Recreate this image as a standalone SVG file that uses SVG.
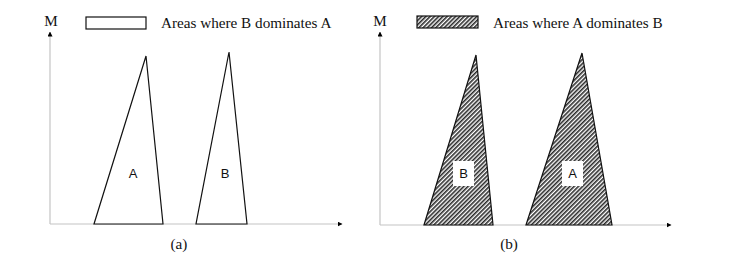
<svg xmlns="http://www.w3.org/2000/svg" width="740" height="270" viewBox="0 0 740 270">
<style>
.axis{stroke:#c4c4c4;stroke-width:1.2;fill:none}
.tri{stroke:#111;stroke-width:1.2;stroke-linejoin:miter}
.open{fill:#fff}
.hatch{fill:url(#hatch)}
.serif{font-family:"Liberation Serif","Times New Roman",serif;font-size:15.2px;fill:#111}
.lbl{font-family:"Liberation Sans",Arial,sans-serif;font-size:13px;fill:#111;text-anchor:middle}
</style>
<defs>
<pattern id="hatch" patternUnits="userSpaceOnUse" width="3" height="3" patternTransform="rotate(-45)">
<rect width="3" height="3" fill="#fff"/>
<rect width="3" height="1.6" fill="#2a2a2a"/>
</pattern>
<marker id="arr" viewBox="0 0 10 10" refX="9" refY="5" markerWidth="5" markerHeight="5" orient="auto" markerUnits="userSpaceOnUse">
<path d="M0,0 L10,5 L0,10 z" fill="#000"/>
</marker>
</defs>
<g id="connectors">
<path class="axis" d="M50,224 L50,32" marker-end="url(#arr)"/>
<path class="axis" d="M50,224 L342,224" marker-end="url(#arr)"/>
<path class="axis" d="M380,225 L380,32" marker-end="url(#arr)"/>
<path class="axis" d="M380,225 L671,225" marker-end="url(#arr)"/>
</g>
<g id="panel-a">
<text class="serif" x="51" y="26" text-anchor="middle">M</text>
<g id="legend-a">
<rect x="86" y="17" width="60" height="12" fill="#fff" stroke="#111" stroke-width="1.2"/>
<text class="serif" x="161" y="28">Areas where B dominates A</text>
</g>
<g id="tri-a-A">
<polygon class="tri open" points="146,56 94,224 163,224"/>
<text class="lbl" x="133" y="178">A</text>
</g>
<g id="tri-a-B">
<polygon class="tri open" points="229,52 196,224 247,224"/>
<text class="lbl" x="225" y="178">B</text>
</g>
<text class="serif" x="179" y="249" text-anchor="middle">(a)</text>
</g>
<g id="panel-b">
<text class="serif" x="380" y="26" text-anchor="middle">M</text>
<g id="legend-b">
<rect x="417" y="16" width="61" height="12" class="hatch" stroke="#111" stroke-width="1.2"/>
<text class="serif" x="493" y="28">Areas where A dominates B</text>
</g>
<g id="tri-b-B">
<polygon class="tri hatch" points="476,55 424,225 493,225"/>
<rect x="453" y="161" width="21" height="25" fill="#fff"/>
<text class="lbl" x="463.5" y="178">B</text>
</g>
<g id="tri-b-A">
<polygon class="tri hatch" points="582,53 526,225 612,225"/>
<rect x="562" y="161" width="21" height="25" fill="#fff"/>
<text class="lbl" x="572.5" y="178">A</text>
</g>
<text class="serif" x="509" y="249" text-anchor="middle">(b)</text>
</g>
</svg>
